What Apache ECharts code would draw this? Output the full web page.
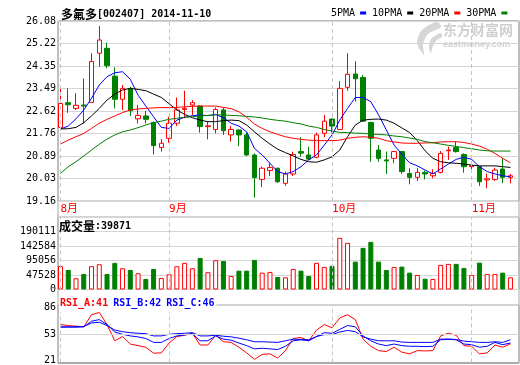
<!DOCTYPE html>
<html>
<head>
<meta charset="utf-8">
<script src="https://cdn.jsdelivr.net/npm/echarts@6/dist/echarts.min.js"></script>
<style>
html, body { margin: 0; padding: 0; background: #fff; }
#main { width: 520px; height: 365px; }
</style>
</head>
<body>
<div id="main"></div>
<script>
// 多氟多 日K 2014-08-12 ~ 2014-11-10
var monthStarts = [0, 14, 35, 53];
var monthNames = ['8月', '9月', '10月', '11月'];
var priceTicks = ['19.16', '20.03', '20.89', '21.76', '22.62', '23.49', '24.35', '25.22', '26.08'];
var volTicks = ['0', '47528', '95056', '142584', '190111', ''];
var rsiTicks = [21, 53, 86];

var openP = [21.99, 22.94, 22.72, 22.85, 22.95, 24.84, 25.03, 23.96, 23.07, 23.49,
  22.32, 22.43, 22.18, 21.22, 21.57, 22.15, 22.68, 22.85, 22.81, 22.02,
  21.91, 22.66, 21.70, 21.89, 21.70, 20.93, 19.99, 20.33, 20.42, 19.84,
  20.20, 21.06, 20.93, 20.84, 21.76, 22.31, 21.91, 23.53, 24.04, 23.91,
  22.18, 21.12, 20.74, 20.80, 21.06, 20.22, 20.07, 20.26, 20.13, 20.26,
  21.09, 21.22, 20.95, 20.48, 20.48, 19.97, 19.99, 20.39, 20.07];
var closeP = [22.91, 22.86, 22.84, 22.81, 24.52, 25.35, 24.36, 23.07, 23.49, 22.63,
  22.45, 22.30, 21.29, 21.38, 22.15, 22.66, 22.72, 22.94, 22.02, 22.05,
  22.68, 21.86, 21.91, 21.70, 20.93, 20.06, 20.42, 20.45, 19.90, 20.20,
  20.95, 21.00, 20.77, 21.70, 22.23, 22.04, 23.49, 24.03, 23.86, 22.23,
  21.57, 20.80, 20.70, 21.06, 20.29, 20.07, 20.26, 20.20, 20.22, 20.99,
  21.12, 21.06, 20.48, 20.52, 19.90, 20.01, 20.35, 20.07, 20.13];
var lowP = [21.95, 22.55, 22.66, 22.14, 22.95, 24.32, 24.26, 22.72, 22.66, 22.43,
  22.14, 22.14, 20.95, 21.06, 21.40, 22.04, 22.34, 22.47, 21.79, 21.53,
  21.76, 21.70, 21.44, 21.27, 20.89, 19.29, 19.69, 20.12, 19.86, 19.74,
  20.12, 20.86, 20.74, 20.80, 21.61, 21.79, 21.89, 23.40, 22.98, 22.21,
  20.67, 20.67, 20.20, 20.61, 20.20, 19.80, 19.93, 19.99, 20.03, 20.22,
  20.74, 21.02, 20.25, 20.35, 19.74, 19.65, 19.94, 19.84, 19.84];
var highP = [23.49, 23.49, 23.30, 23.87, 24.84, 25.89, 25.25, 24.30, 23.62, 23.55,
  22.85, 22.63, 22.21, 21.54, 22.40, 23.14, 23.40, 23.04, 22.84, 22.21,
  22.76, 22.76, 22.04, 21.91, 21.79, 20.99, 20.48, 20.63, 20.44, 20.29,
  21.06, 21.61, 21.25, 21.79, 22.47, 22.34, 23.77, 24.84, 24.53, 24.00,
  22.21, 21.31, 21.06, 21.08, 21.08, 20.42, 20.42, 20.33, 20.38, 21.08,
  21.25, 21.44, 20.99, 20.67, 20.51, 20.22, 20.44, 20.80, 20.20];
var volume = [77300, 64100, 36800, 51000, 76300, 82900, 51000, 87200, 69700, 64100,
  53300, 34500, 67400, 37800, 50000, 76300, 87200, 69700, 103600, 56600,
  96000, 93700, 44400, 61800, 61800, 97000, 55300, 57600, 41100, 40100,
  67400, 61800, 44400, 87200, 74000, 77300, 169400, 152900, 91400, 136500,
  156200, 91400, 64100, 74000, 75000, 55300, 47700, 35500, 34500, 80600,
  83900, 83900, 70700, 47700, 88100, 51000, 51000, 55300, 39871];

var ma5 = [21.93, 22.04, 22.32, 22.66, 23.11, 23.62, 23.94, 24.09, 24.13, 23.84,
  23.23, 22.81, 22.40, 21.99, 21.95, 22.27, 22.38, 22.44, 22.47, 22.44,
  22.49, 22.36, 22.15, 22.04, 21.82, 21.18, 20.93, 20.61, 20.29, 20.20,
  20.29, 20.48, 20.74, 20.93, 21.31, 21.70, 22.27, 22.72, 23.14, 23.14,
  22.98, 22.47, 21.89, 21.31, 20.96, 20.63, 20.51, 20.35, 20.20, 20.39,
  20.58, 20.76, 20.84, 20.76, 20.48, 20.29, 20.20, 20.13, 20.09];
var ma10 = [21.93, 21.94, 21.99, 22.17, 22.43, 22.72, 23.04, 23.27, 23.43, 23.49,
  23.45, 23.40, 23.27, 23.14, 22.90, 22.66, 22.49, 22.36, 22.27, 22.21,
  22.21, 22.25, 22.27, 22.25, 22.08, 21.82, 21.57, 21.35, 21.15, 21.02,
  20.89, 20.76, 20.67, 20.65, 20.74, 20.86, 21.12, 21.63, 22.08, 22.27,
  22.30, 22.31, 22.27, 22.15, 21.97, 21.79, 21.48, 21.09, 20.80, 20.67,
  20.63, 20.61, 20.58, 20.54, 20.51, 20.51, 20.51, 20.48, 20.45];
var ma20 = [21.35, 21.50, 21.63, 21.76, 21.95, 22.15, 22.30, 22.43, 22.56, 22.66,
  22.70, 22.72, 22.74, 22.75, 22.75, 22.76, 22.78, 22.80, 22.81, 22.81,
  22.81, 22.76, 22.71, 22.59, 22.38, 22.12, 21.95, 21.82, 21.72, 21.63,
  21.57, 21.53, 21.50, 21.48, 21.48, 21.48, 21.50, 21.57, 21.61, 21.63,
  21.61, 21.57, 21.48, 21.43, 21.39, 21.38, 21.38, 21.39, 21.40, 21.43,
  21.44, 21.44, 21.41, 21.35, 21.27, 21.15, 20.99, 20.80, 20.63];
var ma30 = [20.22, 20.48, 20.67, 20.89, 21.12, 21.34, 21.54, 21.70, 21.82, 21.89,
  21.98, 22.08, 22.17, 22.23, 22.30, 22.34, 22.38, 22.40, 22.43, 22.45,
  22.47, 22.47, 22.45, 22.44, 22.41, 22.39, 22.35, 22.30, 22.26, 22.23,
  22.17, 22.12, 22.04, 21.99, 21.91, 21.85, 21.80, 21.79, 21.77, 21.76,
  21.73, 21.72, 21.70, 21.66, 21.63, 21.58, 21.53, 21.44, 21.40, 21.35,
  21.30, 21.26, 21.21, 21.17, 21.12, 21.09, 21.08, 21.08, 21.08];

var rsiA = [64.7, 63.5, 62.7, 61.9, 76.8, 79.6, 64.7, 44.7, 49.9, 40.7,
  38.7, 36.7, 29.4, 29.8, 41.9, 49.9, 51.5, 53.9, 39.5, 39.5,
  51.5, 43.5, 42.7, 36.7, 29.8, 21.8, 27.8, 28.6, 23.4, 32.6,
  47.5, 48.7, 44.7, 57.9, 64.7, 60.7, 72.8, 76.8, 70.8, 46.7,
  37.9, 32.6, 31.4, 36.7, 30.6, 28.6, 32.6, 32.2, 32.6, 50.7,
  53.9, 51.5, 38.7, 37.9, 28.6, 29.8, 39.5, 36.7, 41];
var rsiB = [61.5, 61.5, 61.5, 61.9, 68.8, 70.8, 64.7, 55.5, 52.7, 50.7,
  49.5, 47.5, 42.7, 42.7, 47.5, 50.7, 51.9, 53.5, 44.7, 44.7,
  50.7, 46.7, 45.5, 41.9, 38.7, 34.7, 35.5, 34.7, 33.9, 37.9,
  44.7, 45.9, 44.7, 49.9, 54.7, 53.9, 58.7, 63.5, 61.9, 50.7,
  44.7, 40.7, 38.7, 40.7, 38.7, 37.9, 37.9, 37.5, 37.9, 45.9,
  46.7, 45.9, 40.7, 39.9, 36.7, 37.9, 42.7, 39.9, 42];
var rsiC = [61.9, 61.9, 61.9, 62.3, 66.7, 67.5, 63.5, 57.9, 55.9, 54.7,
  53.9, 53.5, 50.7, 50.7, 52.7, 53.5, 53.9, 54.7, 50.7, 50.7,
  51.5, 50.3, 49.5, 47.9, 45.9, 43.5, 43.5, 43.1, 42.7, 44.7,
  46.7, 46.3, 45.9, 49.9, 52.3, 52.3, 55.5, 57.5, 55.9, 49.5,
  46.7, 44.7, 44.7, 44.7, 43.1, 42.7, 42.7, 42.7, 42.7, 46.7,
  46.7, 46.3, 44.3, 43.5, 42.7, 42.7, 43.5, 42.7, 46];

var mono = "'DejaVu Sans Mono', monospace";
var cjk = "'Noto Sans CJK SC', sans-serif";
var gridColor = '#d6d6d6';
var frameColor = '#a8a8a8';
var red = '#ff0000', green = '#008000', blue = '#0000ff';

function pairs(arr) {
  return arr.map(function (v, i) { return [i, v]; });
}
function last(arr) { return arr[arr.length - 1]; }

var candles = openP.map(function (o, i) {
  return [i, o, closeP[i], lowP[i], highP[i]];
});
var volData = volume.map(function (v, i) {
  var up = closeP[i] >= openP[i];
  return {
    value: [i, v],
    itemStyle: up ? { color: '#fff', borderColor: red, borderWidth: 1 }
                  : { color: green, borderColor: green, borderWidth: 1 }
  };
});

function monthLines() {
  return {
    silent: true,
    symbol: 'none',
    label: { show: false },
    lineStyle: { color: '#c4c4c4', type: [4, 3], width: 1 },
    data: monthStarts.map(function (m) { return { xAxis: m }; })
  };
}

var xMin = -0.32, xMax = 59.1;
function xAxisFor(idx, showLabel) {
  return {
    type: 'value', gridIndex: idx, min: xMin, max: xMax,
    axisLine: { show: false }, axisTick: { show: false }, splitLine: { show: false },
    axisLabel: {
      show: showLabel,
      customValues: monthStarts,
      formatter: function (v) { return monthNames[monthStarts.indexOf(Math.round(v))]; },
      color: red, fontSize: 11, fontFamily: "'DejaVu Sans Mono', 'Noto Sans CJK SC'",
      align: 'left', margin: 3
    }
  };
}

var chart = echarts.init(document.getElementById('main'));
chart.setOption({
  animation: false,
  backgroundColor: '#fff',
  title: [
    {
      left: 61, top: 7, padding: 0,
      text: '{c|多氟多}{m|[002407] 2014-11-10}',
      textStyle: {
        rich: {
          c: { fontFamily: cjk, fontSize: 12, color: '#000', lineHeight: 14 },
          m: { fontFamily: mono, fontSize: 10, color: '#000', lineHeight: 14 }
        }
      }
    },
    {
      left: 59, top: 219, padding: 0,
      text: '{c|成交量}{m|:' + last(volume) + '}',
      textStyle: {
        rich: {
          c: { fontFamily: cjk, fontSize: 12, color: '#000', lineHeight: 14 },
          m: { fontFamily: mono, fontSize: 10, color: '#000', lineHeight: 14 }
        }
      }
    },
    {
      left: 59, top: 294, padding: [0, 2, 0, 1],
      backgroundColor: '#fff',
      text: '{a|RSI_A:' + Math.round(last(rsiA)) + '} {b|RSI_B:' + Math.round(last(rsiB)) +
            '} {b|RSI_C:' + Math.round(last(rsiC)) + '}',
      textStyle: {
        rich: {
          a: { fontFamily: mono, fontSize: 10, color: red, lineHeight: 12 },
          b: { fontFamily: mono, fontSize: 10, color: blue, lineHeight: 12 }
        }
      }
    }
  ],
  legend: {
    left: 331, top: 8, padding: 0,
    align: 'right', icon: 'rect',
    itemWidth: 6, itemHeight: 3, itemGap: 6,
    textStyle: { fontFamily: mono, fontSize: 10, color: '#000' },
    data: ['5PMA', '10PMA', '20PMA', '30PMA']
  },
  graphic: [
    {
      type: 'text', left: 443, top: 23, silent: true,
      style: { text: '东方财富网', fill: '#cfcfcf', font: 'bold 14px ' + cjk }
    },
    {
      type: 'text', left: 443, top: 40, silent: true,
      style: { text: 'eastmoney.com', fill: '#cfcfcf', font: 'bold 9px Arial, sans-serif' }
    },
    {
      type: 'polygon', silent: true,
      shape: { points: [[437, 22], [422, 30], [417, 43], [424, 55], [423, 44], [428, 34], [441, 27]], smooth: 0.3 },
      style: { fill: '#d6d6d6' }
    },
    {
      type: 'polygon', silent: true,
      shape: { points: [[441, 33], [431, 39], [429, 47], [431, 53], [433, 46], [437, 40], [442, 37]], smooth: 0.3 },
      style: { fill: '#d6d6d6' }
    }
  ],
  grid: [
    { left: 58, right: 1, top: 21, height: 180, show: true, borderColor: frameColor, borderWidth: 1 },
    { left: 58, right: 1, top: 217, height: 72.5, show: true, borderColor: frameColor, borderWidth: 1 },
    { left: 58, right: 1, top: 305, height: 58.5, show: true, borderColor: frameColor, borderWidth: 1 },
    // outer frame so the side borders run through the gaps between panels
    { left: 58, right: 1, top: 21, height: 342.5, show: true, borderColor: frameColor, borderWidth: 1 }
  ],
  xAxis: [xAxisFor(0, true), xAxisFor(1, false), xAxisFor(2, false)],
  yAxis: [
    {
      type: 'value', gridIndex: 0, min: 19.16, max: 26.08, interval: 0.865,
      axisLine: { show: false }, axisTick: { show: false },
      splitLine: { lineStyle: { color: gridColor, width: 1 } },
      axisLabel: {
        margin: 2, color: '#000', fontFamily: mono, fontSize: 10,
        formatter: function (v, idx) { return priceTicks[idx]; }
      }
    },
    {
      type: 'value', gridIndex: 1, min: 0, max: 237640, interval: 47528,
      axisLine: { show: false }, axisTick: { show: false },
      splitLine: { lineStyle: { color: gridColor, width: 1 } },
      axisLabel: {
        margin: 2, color: '#000', fontFamily: mono, fontSize: 10,
        formatter: function (v, idx) { return volTicks[idx]; }
      }
    },
    {
      type: 'value', gridIndex: 2, min: 18, max: 88.8,
      axisLine: { show: false }, axisTick: { show: false },
      splitLine: { show: false },
      axisLabel: {
        margin: 2, color: '#000', fontFamily: mono, fontSize: 10,
        customValues: rsiTicks,
        formatter: function (v) { return String(v); }
      }
    }
  ],
  series: [
    {
      type: 'candlestick', xAxisIndex: 0, yAxisIndex: 0,
      data: candles, barWidth: 5, z: 2,
      itemStyle: { color: '#fff', color0: green, borderColor: red, borderColor0: green, borderWidth: 1 },
      markLine: monthLines()
    },
    { name: '5PMA', type: 'line', xAxisIndex: 0, yAxisIndex: 0, data: pairs(ma5), color: blue,
      symbol: 'none', lineStyle: { width: 1 }, z: 3 },
    { name: '10PMA', type: 'line', xAxisIndex: 0, yAxisIndex: 0, data: pairs(ma10), color: '#000',
      symbol: 'none', lineStyle: { width: 1 }, z: 3 },
    { name: '20PMA', type: 'line', xAxisIndex: 0, yAxisIndex: 0, data: pairs(ma20), color: red,
      symbol: 'none', lineStyle: { width: 1 }, z: 3 },
    { name: '30PMA', type: 'line', xAxisIndex: 0, yAxisIndex: 0, data: pairs(ma30), color: green,
      symbol: 'none', lineStyle: { width: 1 }, z: 3 },
    {
      type: 'bar', xAxisIndex: 1, yAxisIndex: 1, data: volData, barWidth: 5, z: 2,
      markLine: monthLines()
    },
    {
      type: 'line', xAxisIndex: 2, yAxisIndex: 2, data: pairs(rsiA), color: red,
      symbol: 'none', lineStyle: { width: 1 }, z: 3,
      markLine: {
        silent: true, symbol: 'none', label: { show: false },
        data: monthStarts.map(function (m) {
          return { xAxis: m, lineStyle: { color: '#c4c4c4', type: [4, 3], width: 1 } };
        }).concat([{ yAxis: rsiTicks[1], lineStyle: { color: gridColor, type: 'solid', width: 1 } }])
      }
    },
    { type: 'line', xAxisIndex: 2, yAxisIndex: 2, data: pairs(rsiB), color: blue,
      symbol: 'none', lineStyle: { width: 1 }, z: 3 },
    { type: 'line', xAxisIndex: 2, yAxisIndex: 2, data: pairs(rsiC), color: blue,
      symbol: 'none', lineStyle: { width: 1 }, z: 3 }
  ]
});
</script>
</body>
</html>
